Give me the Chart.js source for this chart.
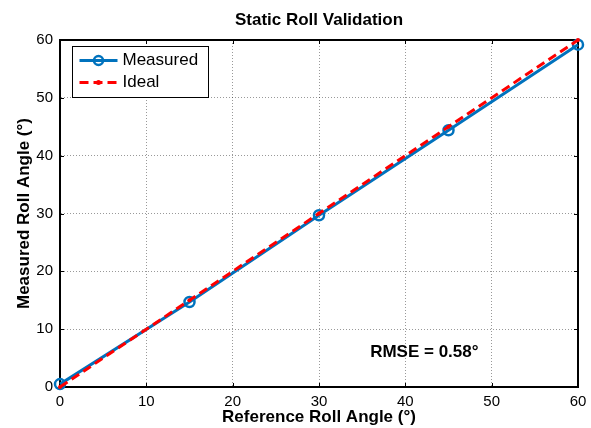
<!DOCTYPE html>
<html>
<head>
<meta charset="utf-8">
<script src="https://cdn.jsdelivr.net/npm/chart.js@4/dist/chart.umd.min.js"></script>
<style>
  html, body { margin: 0; padding: 0; background: #fff; }
  #wrap { width: 591px; height: 428px; }
</style>
</head>
<body>
<div id="wrap"><canvas id="rollChart" width="591" height="428"></canvas></div>
<script>
// values
const refAngles = [0, 15, 30, 45, 60];
const measuredAngles = [0.5, 14.7, 29.7, 44.4, 59.2];
const idealAngles = [0, 15, 30, 45, 60];
const axisTicks = [0, 10, 20, 30, 40, 50, 60];
const rmseLabel = 'RMSE = 0.58°';
const rmsePos = [42.2, 6.0]; // data coords of the annotation

const FONT = '"Liberation Sans", Arial, sans-serif';
const BLUE = '#0072BD';
const RED = '#FF0000';

function toPoints(xs, ys){
  return xs.map((x, i) => ({ x: x, y: ys[i] }));
}

// box round the axes + little inward tick marks (matlab style)
const framePlugin = {
  id: 'frame',
  beforeDatasetsDraw(chart){
    const { ctx, chartArea: a, scales } = chart;
    ctx.save();
    ctx.strokeStyle = '#000';
    ctx.lineWidth = 1;
    ctx.beginPath();
    scales.x.ticks.forEach(t => {
      const px = Math.round(scales.x.getPixelForValue(t.value)) + 0.5;
      ctx.moveTo(px, a.bottom); ctx.lineTo(px, a.bottom - 4);
      ctx.moveTo(px, a.top); ctx.lineTo(px, a.top + 4);
    });
    scales.y.ticks.forEach(t => {
      const py = Math.round(scales.y.getPixelForValue(t.value)) + 0.5;
      ctx.moveTo(a.left, py); ctx.lineTo(a.left + 4, py);
      ctx.moveTo(a.right, py); ctx.lineTo(a.right - 4, py);
    });
    ctx.stroke();
    ctx.lineWidth = 2;
    ctx.strokeRect(Math.round(a.left), Math.round(a.top),
                   Math.round(a.right - a.left), Math.round(a.bottom - a.top));
    ctx.restore();
  }
};

// legend inside the axes (top left) and the RMSE text
const overlayPlugin = {
  id: 'overlay',
  afterDraw(chart){
    const { ctx, chartArea: a, scales } = chart;
    ctx.save();
    const bx = Math.round(a.left) + 12.5, by = Math.round(a.top) + 6.5;
    ctx.fillStyle = '#fff';
    ctx.fillRect(bx, by, 136, 51);
    ctx.strokeStyle = '#000';
    ctx.lineWidth = 1;
    ctx.strokeRect(bx, by, 136, 51);

    const x0 = bx + 7, x1 = bx + 45;
    // Measured entry
    let y = by + 14;
    ctx.strokeStyle = BLUE;
    ctx.lineWidth = 3;
    ctx.beginPath(); ctx.moveTo(x0, y); ctx.lineTo(x1, y); ctx.stroke();
    ctx.lineWidth = 2.5;
    ctx.beginPath(); ctx.arc((x0 + x1) / 2, y, 4.5, 0, Math.PI * 2); ctx.stroke();
    // Ideal entry
    y = by + 36;
    ctx.strokeStyle = RED;
    ctx.lineWidth = 3;
    ctx.setLineDash([9, 5]);
    ctx.beginPath(); ctx.moveTo(x0, y); ctx.lineTo(x1, y); ctx.stroke();
    ctx.setLineDash([]);
    ctx.fillStyle = RED;
    ctx.beginPath(); ctx.arc((x0 + x1) / 2, y, 2.5, 0, Math.PI * 2); ctx.fill();

    ctx.fillStyle = '#000';
    ctx.font = '17px ' + FONT;
    ctx.textBaseline = 'middle';
    ctx.textAlign = 'left';
    ctx.fillText(chart.data.datasets[0].label, x1 + 5, by + 14);
    ctx.fillText(chart.data.datasets[1].label, x1 + 5, by + 36);

    ctx.font = 'bold 17px ' + FONT;
    ctx.textAlign = 'center';
    ctx.fillText(rmseLabel, scales.x.getPixelForValue(rmsePos[0]), scales.y.getPixelForValue(rmsePos[1]));
    ctx.restore();
  }
};

const tickFont = { family: FONT, size: 15 };
const titleFont = { family: FONT, size: 17, weight: 'bold' };
const gridOpts = { color: 'rgba(0,0,0,0.4)', lineWidth: 1, drawTicks: false };

new Chart(document.getElementById('rollChart'), {
  type: 'line',
  data: {
    datasets: [
      {
        label: 'Measured',
        data: toPoints(refAngles, measuredAngles),
        borderColor: BLUE,
        borderWidth: 3,
        pointStyle: 'circle',
        pointRadius: 5,
        pointBorderWidth: 2.5,
        pointBorderColor: BLUE,
        pointBackgroundColor: 'rgba(0,0,0,0)',
        tension: 0,
        clip: false,
        order: 1
      },
      {
        label: 'Ideal',
        data: toPoints(refAngles, idealAngles),
        borderColor: RED,
        borderWidth: 3,
        borderDash: [9, 5],
        pointRadius: 2,
        pointBorderWidth: 0,
        pointBackgroundColor: RED,
        tension: 0,
        clip: false,
        order: 0
      }
    ]
  },
  options: {
    responsive: false,
    animation: false,
    events: [],
    layout: { padding: { left: 0, right: 13, top: 0, bottom: 0 } },
    plugins: {
      legend: { display: false },
      tooltip: { enabled: false },
      title: {
        display: true,
        text: 'Static Roll Validation',
        color: '#000',
        font: titleFont,
        fullSize: false,
        padding: { top: 10, bottom: 9.6 }
      }
    },
    scales: {
      x: {
        type: 'linear',
        min: 0, max: 60,
        afterBuildTicks(scale){ scale.ticks = axisTicks.map(v => ({ value: v })); },
        afterFit(scale){ scale.height = 41; scale.paddingRight = 0; scale.paddingLeft = 0; },
        ticks: { color: '#000', font: tickFont, padding: 6 },
        grid: gridOpts,
        border: { display: true, color: '#000', width: 1, dash: [1, 2] },
        title: { display: true, text: 'Reference Roll Angle (°)', color: '#000', font: titleFont, padding: { top: 0, bottom: 0 } }
      },
      y: {
        type: 'linear',
        min: 0, max: 60,
        afterBuildTicks(scale){ scale.ticks = axisTicks.map(v => ({ value: v })); },
        afterFit(scale){ scale.width = 60; },
        ticks: { color: '#000', font: tickFont, padding: 7 },
        grid: gridOpts,
        border: { display: true, color: '#000', width: 1, dash: [1, 2] },
        title: { display: true, text: 'Measured Roll Angle (°)', color: '#000', font: titleFont, padding: { top: 14, bottom: 0 } }
      }
    }
  },
  plugins: [framePlugin, overlayPlugin]
});
</script>
</body>
</html>
